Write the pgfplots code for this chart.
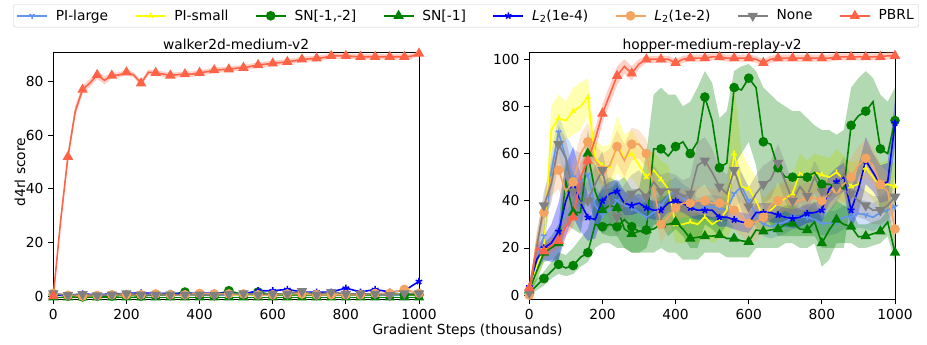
\documentclass[border=0pt]{standalone}
\usepackage{pgfplots}
\pgfplotsset{compat=1.18}
\usepackage{pgfplotstable}
\usepgfplotslibrary{fillbetween}
\usetikzlibrary{plotmarks}
\usepackage{fontspec}
\setmainfont{DejaVu Sans}
\newcommand{\fs}{\fontsize{13.8}{16}\selectfont}

\definecolor{cPIl}{RGB}{100,149,237}
\definecolor{cPIs}{RGB}{255,255,0}
\definecolor{cSN}{RGB}{0,128,0}
\definecolor{cLa}{RGB}{0,0,255}
\definecolor{cLb}{RGB}{244,164,96}
\definecolor{cNo}{RGB}{128,128,128}
\definecolor{cPB}{RGB}{255,99,71}

% ---------------- left: walker2d-medium-v2 ----------------
\pgfplotstableread{
x y s
0 0 1
20 28 2
40 52 2
60 69 2
80 77 1.5
100 79.5 1.5
120 82.5 1.5
140 80.5 1.5
160 82.3 1
180 82.5 1
200 83.5 1
220 82.5 1
240 79.4 1
260 83.5 1
280 83.3 1
300 82.8 1
320 82.3 1
340 82.6 1
360 82.8 1
380 82.8 1
400 83.3 1
420 83.7 1
440 84.3 1
460 84.5 1
480 84.6 1
500 85 1
520 85.2 1
540 85.7 1
560 86.2 1
580 86.5 1
600 86.8 1
620 87.1 1
640 87.4 1
660 87.8 1
680 88.3 1
700 88.5 1
720 88.7 1
740 89 1
760 89.6 1
780 89.6 1
800 89.6 1
820 89.4 1
840 89.3 1
860 89.3 1
880 89.3 1
900 89.3 1
920 89.3 1
940 89.3 1
960 89.3 1
980 89.5 1
1000 90.5 1
}\tLPB

\pgfplotstableread{
x pl ps sa sb la lb no
0 0.3 0.5 0.5 -0.5 0.5 1 1
40 0.2 0.5 0 -0.5 0.3 0.3 0.3
80 0.3 0.5 -0.3 -0.5 0.8 0 0.7
120 0.2 0.5 0 -0.5 0.5 0.2 0.2
160 0.3 0.5 0 -0.5 0.8 0.5 0.5
200 0.3 0.6 0.3 -0.5 1 0.5 1
240 0.3 0.5 0 -0.5 1.2 0.5 0.5
280 0.3 0.5 0.5 -0.5 1 0.8 0.5
320 0.3 0.5 0.5 -0.5 1 0.5 0.5
360 0.3 0.5 1.5 -0.5 1 0.5 0.5
400 0.3 0.5 0.5 -0.5 1 1 0.5
440 0.3 1 0.3 -0.5 1.2 0.8 0.3
480 0.3 0.5 2 -0.5 1 0.8 0.8
520 0.3 0.5 0.5 -0.5 0.8 0.8 1
560 0.3 0.5 1.5 -0.5 2 0.5 0.5
600 0.3 0.5 0.5 -0.5 2 0.5 0.8
640 0.3 0.5 0.5 -0.5 2.5 0.8 0.8
680 0.3 0.5 0.5 -0.5 1.5 0.8 1.8
720 0.3 0.5 0.5 -0.5 1.5 0.5 0.5
760 0.3 0.5 0.5 -0.5 1.5 0.5 1.5
800 0.3 0.5 0.3 -0.5 3 0.5 0.8
840 0.3 0.5 0.5 -0.5 1.5 0.5 0.8
880 0.3 0.5 0.5 -0.5 2.5 1 0.8
920 0.3 0.8 0.8 -0.5 1.5 1 0.3
960 0.3 0.5 0.5 -0.5 2 2.5 1
1000 0.3 0.5 0.5 -0.5 5.5 1 1
}\tLs

% ---------------- right: hopper-medium-replay-v2 ----------------
\pgfplotstableread{
x y s
0 2 1
20 15 4
40 25 6
60 52 8
80 69 8
100 58 10
120 50 12
140 48 12
160 51 10
180 38 8
200 34 8
220 36 7
240 40 7
260 38 6
280 37 6
300 35 6
320 33 6
340 35 6
360 38 6
380 42 6
400 44 6
420 41 6
440 39 6
460 36 5
480 37 5
500 37.5 5
520 37 5
540 36 5
560 43 6
580 46 6
600 40 6
620 34 5
640 30 5
660 29 5
680 30 5
700 31 5
720 33 5
740 33 5
760 33 5
780 32 5
800 30.4 5
820 30.4 5
840 31 5
860 33 5
880 33 5
900 34.6 6
920 34 6
940 33 6
960 35 6
980 36 6
1000 37.5 6
}\tPIl

\pgfplotstableread{
x y s
0 1 1
20 12 5
40 20 6
60 70 10
80 75 10
100 74 8
120 78 10
140 80 10
160 84 8
180 58 8
200 55 8
220 54 10
240 64 12
260 58 10
280 60 10
300 55 10
320 50 10
340 53 8
360 49 8
380 45 10
400 30 8
420 30 8
440 31 8
460 30 8
480 33 8
500 30 8
520 32 8
540 36 12
560 60 30
580 46 15
600 45 10
620 40 10
640 33 8
660 36 8
680 39 8
700 41 8
720 43 8
740 52 8
760 49 8
780 52 8
800 51 8
820 50 8
840 52 10
860 49 10
880 46 10
900 47 10
920 54 10
940 50 10
960 46 10
980 47 10
1000 46 10
}\tPIs

\pgfplotstableread{
x y lo hi
0 1 0 3
20 4 2 7
40 7 4 10
60 10 7 14
80 13 9 18
100 11.5 8 17
120 12.5 9 20
140 16 12 24
160 18 14 28
180 30 20 40
200 29 22 45
220 30 22 45
240 29 20 48
260 32 20 50
280 29 18 45
300 27 18 45
320 27.6 20 60
340 62 30 85
360 62 30 88
380 59 25 85
400 63 28 85
420 65 25 80
440 60 20 82
460 65 20 88
480 84 30 95
500 74 28 90
520 54 25 75
540 56 30 78
560 88 55 95
580 87 60 97
600 92 65 98
620 88 55 95
640 65 35 88
660 64 30 85
680 54 25 82
700 50 25 80
720 50 25 78
740 50 25 78
760 50 25 75
780 52 25 72
800 47 20 70
820 47 20 70
840 46 20 68
860 45 20 70
880 72 40 88
900 76 50 92
920 78 55 95
940 82 55 92
960 62 35 85
980 60 35 82
1000 74 50 88
}\tSNa

\pgfplotstableread{
x y lo hi
0 2 0 4
20 10 6 14
40 18 14 22
60 20 15 25
80 22 15 30
100 48 30 60
120 35 28 45
140 35 26 48
160 60 45 70
180 44 30 55
200 36 26 48
220 38 25 50
240 37 25 48
260 28 20 38
280 26 18 36
300 27 18 38
320 27.6 18 40
340 28 18 40
360 30 20 42
380 30 18 42
400 31 18 42
420 28 15 40
440 24 15 35
460 24.5 15 35
480 25 18 34
500 25 18 33
520 25.5 18 34
540 24 16 33
560 24 16 32
580 23 16 30
600 22.6 16 30
620 27.6 20 35
640 27 20 34
660 27.6 20 34
680 28 20 36
700 30 22 38
720 30.4 22 38
740 28 20 36
760 27.6 20 36
780 31 22 40
800 22 12 32
820 27.6 15 36
840 32 22 40
860 30 22 38
880 29 22 36
900 24.7 20 30
920 25 20 30
940 26 21 31
960 27 22 32
980 31 25 36
1000 18 14 25
}\tSNb

\pgfplotstableread{
x y s
0 3.5 2
20 15 5
40 20 5
60 22 8
80 27 12
100 40 15
120 48 15
140 39 12
160 33 10
180 32 8
200 40 6
220 43 5
240 44 5
260 39 5
280 38 4
300 39 4
320 37 4
340 36 4
360 36 4
380 39 4
400 40 4
420 39 4
440 37 4
460 36 4
480 36 4
500 36 4
520 33 4
540 33 4
560 32 4
580 31 4
600 30.4 4
620 35 4
640 35 4
660 35 4
680 34 4
700 33 4
720 32.5 4
740 33 4
760 34.6 4
780 35 4
800 36 5
820 45 6
840 48 6
860 50 6
880 36 8
900 45 10
920 57 10
940 52 8
960 47 8
980 48 8
1000 73 10
}\tLa

\pgfplotstableread{
x y s
0 0 1
20 22 5
40 35 6
60 50 8
80 53 8
100 44 8
120 48 8
140 60 8
160 65 8
180 57 7
200 53 7
220 55 7
240 63 7
260 57 7
280 64 7
300 64 6
320 60 6
340 45 8
360 30 8
380 33 6
400 37 6
420 39 6
440 39 6
460 40 6
480 40 6
500 39 6
520 39 6
540 39 6
560 36 8
580 33 8
600 30.4 8
620 31 8
640 33 6
660 38 6
680 40 6
700 41.7 6
720 40 6
740 40 6
760 41.7 6
780 41 6
800 40 6
820 43 6
840 45 6
860 47 8
880 50 8
900 55 8
920 58 8
940 55 8
960 47 8
980 44 8
1000 28 8
}\tLb

\pgfplotstableread{
x y s
0 1 1
20 20 5
40 38 6
60 47 8
80 64 8
100 58 8
120 44 8
140 39 8
160 40 8
180 47 8
200 53 8
220 38 8
240 33 8
260 39 8
280 43 8
300 45 8
320 41.7 7
340 48 7
360 44 7
380 45 7
400 44 7
420 41.7 7
440 43 7
460 55 10
480 57 10
500 52 10
520 46 8
540 43 8
560 53 8
580 44 8
600 37.5 8
620 43 8
640 47 8
660 49 8
680 56 8
700 48 8
720 40 7
740 46 7
760 42 7
780 50 7
800 44 7
820 42 7
840 46 7
860 51.6 7
880 43 7
900 40 7
920 38 6
940 36 6
960 36 6
980 38 6
1000 41.7 6
}\tNo

\pgfplotstableread{
x y s
0 3 2
20 20 3
40 18.5 3
60 21 3
80 23 3
100 29 4
120 33 4
140 50 6
160 57 5
180 66 5
200 77 4
220 85 4
240 93 4
260 97 3
280 94 3
300 98 2
320 100 1.5
340 100 1.5
360 100 1.5
380 100 1.5
400 98.5 1.5
420 100 1.5
440 100.5 1.5
460 100.5 1.5
480 100.5 1.5
500 101 1.5
520 101 1.5
540 100.5 1.5
560 100.5 1.5
580 100.5 1.5
600 100.5 1.5
620 100 1.5
640 98.5 1.5
660 100 1.5
680 100.5 1.5
700 100.5 1.5
720 100.5 1.5
740 100.5 1.5
760 100.5 1.5
780 100.5 1.5
800 100.5 1.5
820 100.5 1.5
840 101 1.5
860 101 1.5
880 101 1.5
900 101 1.5
920 101 1.5
940 101 1.5
960 101 1.5
980 101.5 1.5
1000 101.5 1.5
}\tPB

\newcommand{\symband}[3]{%
 \addplot[draw=none, name path=#3u, forget plot] table[x=x, y expr=\thisrow{y}+\thisrow{s}] {#1};
 \addplot[draw=none, name path=#3l, forget plot] table[x=x, y expr=\thisrow{y}-\thisrow{s}] {#1};
 \addplot[fill=#2, fill opacity=0.3, draw=none, forget plot] fill between[of=#3u and #3l];
}
\newcommand{\absband}[3]{%
 \addplot[draw=none, name path=#3u, forget plot] table[x=x, y=hi] {#1};
 \addplot[draw=none, name path=#3l, forget plot] table[x=x, y=lo] {#1};
 \addplot[fill=#2, fill opacity=0.3, draw=none, forget plot] fill between[of=#3u and #3l];
}

\pgfplotsset{
 myax/.style={scale only axis, width=365.7pt, height=246.6pt, anchor=south west,
  xmin=0, xmax=1000, xtick={0,200,...,1000},
  tick align=outside, tick pos=left, major tick length=5pt,
  axis line style={line width=0.8pt},
  every tick/.style={black, line width=0.8pt},
  tick label style={font=\fs},
  title style={font=\fs, at={(0.5,1)}, anchor=base, yshift=-2.5pt},
  /pgf/number format/assume math mode=true,
  /pgf/number format/1000 sep={},
  legend image code/.code={\draw[mark repeat=2,mark phase=2] plot coordinates {(0pt,0pt)(15pt,0pt)(30pt,0pt)};},
 },
 lw/.style={line width=1.6pt},
}

\begin{document}
\fs
\begin{tikzpicture}
\path (0,0) rectangle (927pt,345pt);

\begin{axis}[myax, at={(53.3pt,45.7pt)}, ymin=-1.2, ymax=90.8, ytick={0,20,...,80},
  title={walker2d-medium-v2}]
 \symband{\tLPB}{cPB}{lpb}
 \addplot[cPIl, lw, mark=Mercedes star flipped, mark size=3pt] table[x=x,y=pl] {\tLs};
 \addplot[cPIs, lw, mark=Mercedes star, mark size=3pt] table[x=x,y=ps] {\tLs};
 \addplot[cSN, lw, mark=*, mark size=4pt] table[x=x,y=sa] {\tLs};
 \addplot[cSN, lw, mark=triangle*, mark size=4.5pt] table[x=x,y=sb] {\tLs};
 \addplot[cLa, lw, mark=star, mark size=3.5pt] table[x=x,y=la] {\tLs};
 \addplot[cLb, lw, mark=*, mark size=4pt] table[x=x,y=lb] {\tLs};
 \addplot[cNo, lw, mark=triangle*, mark size=4.5pt, mark options={rotate=180}] table[x=x,y=no] {\tLs};
 \addplot[cPB, lw, mark=triangle*, mark size=4.5pt, mark repeat=2] table[x=x,y=y] {\tLPB};
\end{axis}

\begin{axis}[myax, at={(529.3pt,45.7pt)}, ymin=-1.8, ymax=102.8, ytick={0,20,...,100},
  title={hopper-medium-replay-v2},
  legend columns=8,
  legend style={at={(-0.1731,1.1496)}, anchor=center, draw=gray!40, rounded corners=2pt,
    font=\fs, inner xsep=3pt, inner ysep=3pt,
    /tikz/every odd column/.append style={column sep=6pt},
    /tikz/every even column/.append style={column sep=24.5pt}},
  ]
 \symband{\tPIl}{cPIl}{pil}
 \symband{\tPIs}{cPIs}{pis}
 \absband{\tSNa}{cSN}{sna}
 \absband{\tSNb}{cSN}{snb}
 \symband{\tLa}{cLa}{la}
 \symband{\tLb}{cLb}{lb}
 \symband{\tNo}{cNo}{no}
 \symband{\tPB}{cPB}{pb}
 \addplot[cPIl, lw, mark=Mercedes star flipped, mark size=3pt, mark repeat=2] table[x=x,y=y] {\tPIl};
 \addlegendentry{PI-large}
 \addplot[cPIs, lw, mark=Mercedes star, mark size=3pt, mark repeat=2] table[x=x,y=y] {\tPIs};
 \addlegendentry{PI-small}
 \addplot[cSN, lw, mark=*, mark size=4pt, mark repeat=2] table[x=x,y=y] {\tSNa};
 \addlegendentry{SN[-1,-2]}
 \addplot[cSN, lw, mark=triangle*, mark size=4.5pt, mark repeat=2] table[x=x,y=y] {\tSNb};
 \addlegendentry{SN[-1]}
 \addplot[cLa, lw, mark=star, mark size=3.5pt, mark repeat=2] table[x=x,y=y] {\tLa};
 \addlegendentry{{\itshape L}\textsubscript{2}(1e-4)}
 \addplot[cLb, lw, mark=*, mark size=4pt, mark repeat=2] table[x=x,y=y] {\tLb};
 \addlegendentry{{\itshape L}\textsubscript{2}(1e-2)}
 \addplot[cNo, lw, mark=triangle*, mark size=4.5pt, mark repeat=2, mark options={rotate=180}] table[x=x,y=y] {\tNo};
 \addlegendentry{None}
 \addplot[cPB, lw, mark=triangle*, mark size=4.5pt, mark repeat=2] table[x=x,y=y] {\tPB};
 \addlegendentry{PBRL}
\end{axis}

\node[anchor=base] at (467.5pt,10pt) {Gradient Steps (thousands)};
\node[rotate=90, anchor=base] at (25pt,173pt) {d4rl score};
\end{tikzpicture}
\end{document}
